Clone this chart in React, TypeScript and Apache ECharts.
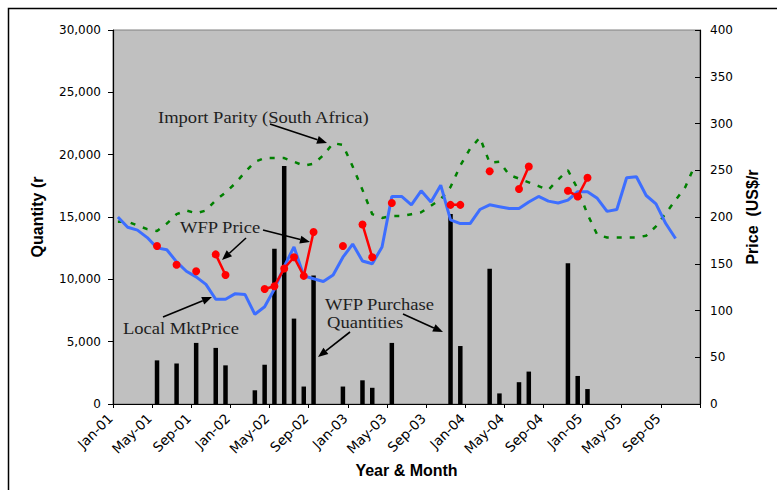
import React, { useEffect, useRef } from "react";
import * as echarts from "echarts";

const MONTHS = ["Jan", "Feb", "Mar", "Apr", "May", "Jun", "Jul", "Aug", "Sep", "Oct", "Nov", "Dec"];
const YEARS = ["01", "02", "03", "04", "05"];
const categories = YEARS.flatMap((y) => MONTHS.map((m) => `${m}-${y}`));

const tickLabels = [
  "Jan-01", "May-01", "Sep-01", "Jan-02", "May-02", "Sep-02", "Jan-03", "May-03",
  "Sep-03", "Jan-04", "May-04", "Sep-04", "Jan-05", "May-05", "Sep-05",
];

// WFP purchase quantities (left axis)
const purchaseMonths = [
  "May-01", "Jul-01", "Sep-01", "Nov-01", "Dec-01", "Mar-02", "Apr-02", "May-02", "Jun-02",
  "Jul-02", "Aug-02", "Sep-02", "Dec-02", "Feb-03", "Mar-03", "May-03", "Nov-03", "Dec-03",
  "Mar-04", "Apr-04", "Jun-04", "Jul-04", "Nov-04", "Dec-04", "Jan-05",
];
const purchaseQty = [
  3500, 3250, 4900, 4500, 3100, 1100, 3150, 12450, 19100,
  6850, 1400, 10300, 1400, 1900, 1300, 4900, 15250, 4650,
  10850, 850, 1750, 2600, 11300, 2250, 1200,
];

// Local market price (right axis), Jan-01 .. Oct-05
const localMktPrice = [
  200, 189, 186, 178, 167, 165, 152, 142, 136, 128,
  112, 112, 118, 117, 96, 104, 123, 147, 168, 137,
  134, 131, 138, 157, 171, 153, 150, 168, 222, 222,
  213, 228, 216, 234, 197, 193, 193, 208, 213, 211,
  209, 209, 216, 222, 217, 215, 218, 227, 227, 220,
  206, 208, 242, 243, 223, 214, 193, 177,
];

// Import parity (South Africa), Jan-01 .. Dec-05
const importParity = [
  195, 195, 191, 187, 185, 193, 203, 207, 204, 207,
  218, 226, 236, 248, 259, 263, 263, 263, 259, 255,
  257, 266, 279, 277, 254, 229, 203, 199, 201, 201,
  203, 205, 212, 219, 232, 255, 273, 285, 258, 259,
  245, 241, 237, 233, 229, 240, 250, 230, 203, 181,
  178, 178, 178, 178, 180, 190, 204, 218, 232, 256,
];

// WFP price (right axis)
const wfpMonths = [
  "May-01", "Jul-01", "Sep-01", "Nov-01", "Dec-01", "Apr-02", "May-02", "Jun-02", "Jul-02",
  "Aug-02", "Sep-02", "Dec-02", "Feb-03", "Mar-03", "May-03", "Nov-03", "Dec-03", "Mar-04",
  "Jun-04", "Jul-04", "Nov-04", "Dec-04", "Jan-05",
];
const wfpPrice = [
  169, 149, 142, 160, 138, 123, 126, 145, 157,
  137, 184, 169, 192, 157, 215, 213, 213, 249,
  230, 254, 228, 222, 242,
];

function spread(months: string[], values: number[]) {
  return categories.map((c) => {
    const k = months.indexOf(c);
    return k >= 0 ? values[k] : null;
  });
}

function arrow(x1: number, y1: number, x2: number, y2: number) {
  const dx = x2 - x1;
  const dy = y2 - y1;
  const len = Math.sqrt(dx * dx + dy * dy);
  const ux = dx / len;
  const uy = dy / len;
  const hl = 10;
  const hw = 4;
  const bx = x2 - ux * hl;
  const by = y2 - uy * hl;
  const px = -uy * hw;
  const py = ux * hw;
  return [
    {
      type: "line",
      silent: true,
      shape: { x1, y1, x2: bx, y2: by },
      style: { stroke: "#000", lineWidth: 1.6 },
    },
    {
      type: "polygon",
      silent: true,
      shape: { points: [[x2, y2], [bx + px, by + py], [bx - px, by - py]] },
      style: { fill: "#000" },
    },
  ];
}

function note(text: string, x: number, y: number) {
  return {
    type: "text",
    silent: true,
    x,
    y,
    scaleX: 1.16,
    style: {
      text,
      fill: "#1e1e1e",
      fontSize: 16,
      fontFamily: "Liberation Serif",
      align: "left",
      verticalAlign: "middle",
    },
  };
}

const fmtThousands = (v: number) => String(v).replace(/\B(?=(\d{3})+(?!\d))/g, ",");

export default function App() {
  const ref = useRef<HTMLDivElement>(null);

  useEffect(() => {
    if (!ref.current) return;
    const chart = echarts.init(ref.current, null, { renderer: "svg" });
    const tickFont = { fontFamily: "DejaVu Sans", fontSize: 12, color: "#000" };
    const titleFont = { fontFamily: "Liberation Sans", fontSize: 16, fontWeight: "bold", color: "#000" };

    chart.setOption({
      animation: false,
      backgroundColor: "#fff",
      grid: {
        left: 113,
        right: 77,
        top: 30,
        bottom: 86,
        show: true,
        backgroundColor: "#C0C0C0",
        borderColor: "#808080",
        borderWidth: 1,
        containLabel: false,
        outerBoundsMode: "none",
      },
      xAxis: [
        {
          type: "category",
          data: categories,
          boundaryGap: true,
          show: false,
        },
        {
          type: "value",
          min: 0,
          max: 60,
          interval: 4,
          position: "bottom",
          axisLine: { show: true, onZero: false, lineStyle: { color: "#000", width: 1.2 } },
          axisTick: { show: true, length: 4, lineStyle: { color: "#000" } },
          splitLine: { show: false },
          axisLabel: {
            ...tickFont,
            fontSize: 13.5,
            rotate: 45,
            margin: 9,
            showMaxLabel: true,
            showMinLabel: true,
            padding: [0, 4, 0, 0],
            formatter: (v: number) => tickLabels[Math.round(v / 4)] ?? "",
          },
          name: "Year & Month",
          nameLocation: "middle",
          nameGap: 58,
          nameMoveOverlap: false,
          nameTextStyle: titleFont,
        },
      ],
      yAxis: [
        {
          type: "value",
          min: 0,
          max: 30000,
          interval: 5000,
          position: "left",
          axisLine: { show: true, lineStyle: { color: "#000", width: 1.2 } },
          axisTick: { show: true, length: 5, inside: false, lineStyle: { color: "#000" } },
          splitLine: { show: false },
          axisLabel: { ...tickFont, margin: 12, formatter: (v: number) => fmtThousands(v) },
          name: "Quantity (r",
          nameLocation: "middle",
          nameRotate: 90,
          nameGap: 68,
          nameMoveOverlap: false,
          nameTextStyle: titleFont,
        },
        {
          type: "value",
          min: 0,
          max: 400,
          interval: 50,
          position: "right",
          axisLine: { show: true, lineStyle: { color: "#000", width: 1.2 } },
          axisTick: { show: true, length: 5, inside: true, lineStyle: { color: "#000" } },
          splitLine: { show: false },
          axisLabel: { ...tickFont, margin: 10 },
          name: "Price  (US$/r",
          nameLocation: "middle",
          nameRotate: 90,
          nameGap: 44,
          nameMoveOverlap: false,
          nameTextStyle: titleFont,
        },
      ],
      series: [
        {
          name: "WFP Purchase Quantities",
          type: "bar",
          xAxisIndex: 0,
          yAxisIndex: 0,
          data: spread(purchaseMonths, purchaseQty),
          barWidth: 4.5,
          itemStyle: { color: "#000" },
        },
        {
          name: "Import Parity (South Africa)",
          type: "line",
          xAxisIndex: 0,
          yAxisIndex: 1,
          data: importParity,
          symbol: "none",
          showSymbol: false,
          lineStyle: { color: "#008000", width: 2.5, type: [5, 8] },
        },
        {
          name: "Local Mkt Price",
          type: "line",
          xAxisIndex: 0,
          yAxisIndex: 1,
          data: localMktPrice,
          symbol: "none",
          showSymbol: false,
          lineStyle: { color: "#3D6EFF", width: 3 },
        },
        {
          name: "WFP Price",
          type: "line",
          xAxisIndex: 0,
          yAxisIndex: 1,
          data: spread(wfpMonths, wfpPrice),
          connectNulls: false,
          symbol: "circle",
          symbolSize: 8,
          showSymbol: true,
          showAllSymbol: true,
          itemStyle: { color: "#FF0000" },
          lineStyle: { color: "#FF0000", width: 2.5 },
        },
      ],
      graphic: [
        {
          type: "rect",
          silent: true,
          shape: { x: 8.5, y: 8.5, width: 800, height: 500 },
          style: { fill: "none", stroke: "#000", lineWidth: 1.5 },
        },
        note("Import Parity (South Africa)", 158, 118),
        ...arrow(270, 124, 327, 143),
        note("WFP Price", 180, 228),
        ...arrow(263, 230, 310, 242),
        ...arrow(246, 238, 222, 260),
        note("Local MktPrice", 123, 329),
        ...arrow(163, 317, 212, 297),
        note("WFP Purchase", 325, 305),
        note("Quantities", 327, 323),
        ...arrow(350, 332, 318, 357),
        ...arrow(403, 314, 443, 332),
      ],
    });
    return () => chart.dispose();
  }, []);

  return (
    <div
      ref={ref}
      style={{ position: "absolute", left: 0, top: 0, width: 777, height: 490, background: "#fff" }}
    />
  );
}
